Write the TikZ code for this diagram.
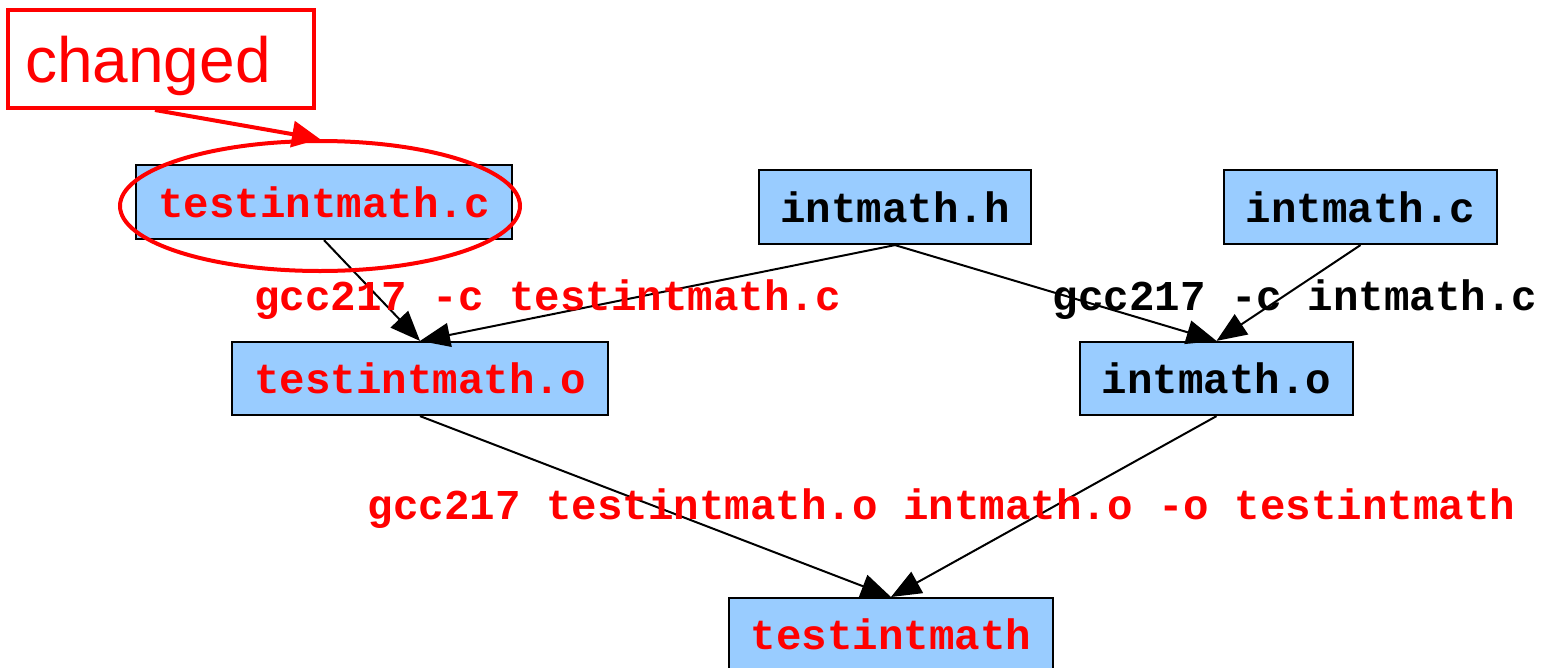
\documentclass[tikz,border=0pt]{standalone}
\usepackage{fontspec}
\setmainfont{Liberation Sans}
\newfontfamily\codefont{Liberation Mono}
\usetikzlibrary{arrows.meta,shapes.geometric}
\definecolor{boxblue}{HTML}{99CCFF}
\definecolor{hlred}{HTML}{FF0000}
\tikzset{
  filebox/.style={draw=black, fill=boxblue, line width=2.2pt, inner sep=0pt,
    font=\codefont\bfseries\fontsize{42.5}{50}\selectfont},
  redtext/.style={text=hlred},
  cmdlabel/.style={inner sep=0pt, anchor=base,
    font=\codefont\bfseries\fontsize{42.5}{50}\selectfont},
  dep/.style={draw=black, line width=2pt, -{Triangle[length=30pt,width=24pt]}},
  marker/.style={draw=hlred, line width=4pt},
}
\begin{document}
\begin{tikzpicture}[x=1pt,y=-1pt]
\useasboundingbox (0,0) rectangle (1544,667);
% nodes
\node[filebox, redtext, minimum width=376pt, minimum height=74pt] (tc) at (324,202) {testintmath.c};
\node[filebox, minimum width=272pt, minimum height=74pt] (ih) at (895,207) {intmath.h};
\node[filebox, minimum width=273pt, minimum height=74pt] (ic) at (1360.5,207) {intmath.c};
\node[filebox, redtext, minimum width=376pt, minimum height=73pt] (to) at (420,378.5) {testintmath.o};
\node[filebox, minimum width=273pt, minimum height=73pt] (io) at (1216.5,378.5) {intmath.o};
\node[filebox, redtext, minimum width=324pt, minimum height=72pt, anchor=north] (t) at (891,597) {testintmath};
% edges
\draw[dep] (tc.south) -- (to.north);
\draw[dep] (ih.south) -- (to.north);
\draw[dep] (ih.south) -- (io.north);
\draw[dep] (ic.south) -- (io.north);
\draw[dep] (to.south) -- (t.north);
\draw[dep] (io.south) -- (t.north);
% labels
\node[cmdlabel, redtext] (l1) at (547.5,310) {gcc217 -c testintmath.c};
\node[cmdlabel] (l2) at (1295,310) {gcc217 -c intmath.c};
\node[cmdlabel, redtext] (l3) at (941.5,519) {gcc217 testintmath.o intmath.o -o testintmath};
% highlight
\node[marker, ellipse, minimum width=400pt, minimum height=130pt, inner sep=0pt] (hl) at (320,206) {};
\node[marker, inner sep=0pt, minimum width=306pt, minimum height=98pt, text=hlred,
  font=\fontsize{64}{70}\selectfont] (ch) at (161,59) {\hspace*{-26pt}\smash{\raisebox{-23pt}{changed}}};
\draw[marker, -{Triangle[length=28pt,width=26pt]}] (ch.south) ++(-6,0) coordinate (chs) (chs) -- (hl.north);
\end{tikzpicture}
\end{document}
